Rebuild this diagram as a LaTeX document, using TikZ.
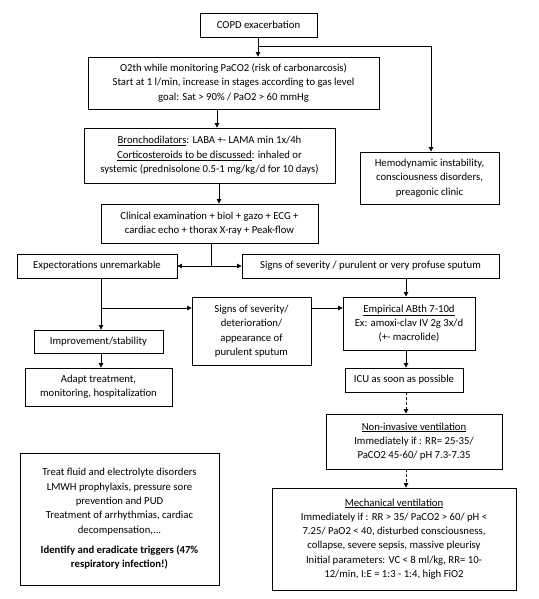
\documentclass[tikz,border=0pt]{standalone}
\usepackage{fontspec}
\setmainfont{Carlito}
\usetikzlibrary{arrows.meta}
\begin{document}
\begin{tikzpicture}[x=1pt,y=-1pt,
  box/.style={draw, line width=0.9pt, align=center, inner sep=2pt, font=\fontsize{10.7}{14.3}\selectfont},
  conn/.style={line width=0.8pt, -{Triangle[width=4.5pt,length=4.5pt]}},
  plainline/.style={line width=0.8pt},
  dconn/.style={conn, dashed, dash pattern=on 3pt off 2pt}]
\useasboundingbox (0,0) rectangle (538,599);
\node[box, minimum width=117pt, minimum height=24pt] (copd) at (258.5,25) {COPD exacerbation};
\node[box, minimum width=291pt, minimum height=52pt] (o2) at (233.5,83) {O2th while monitoring PaCO2 (risk of carbonarcosis)\\Start at 1 l/min, increase in stages according to gas level\\goal: Sat > 90\% / PaO2 > 60 mmHg};
\node[box, minimum width=251pt, minimum height=55pt] (bron) at (209.5,155.5) {\underline{Bronchodilators}: LABA +- LAMA min 1x/4h\\\underline{Corticosteroids to be discussed}: inhaled or\\systemic (prednisolone 0.5-1 mg/kg/d for 10 days)};
\node[box, minimum width=139pt, minimum height=52pt] (hemo) at (429.5,178) {Hemodynamic instability,\\consciousness disorders,\\preagonic clinic};
\node[box, minimum width=217pt, minimum height=39pt] (clin) at (209.5,223.5) {Clinical examination + biol + gazo + ECG +\\cardiac echo + thorax X-ray + Peak-flow};
\node[box, minimum width=160pt, minimum height=24pt] (exp) at (97,266) {Expectorations unremarkable};
\node[box, minimum width=257pt, minimum height=24pt] (signs) at (370.5,266) {Signs of severity / purulent or very profuse sputum};
\node[box, minimum width=119pt, minimum height=68pt] (det) at (251.5,331) {Signs of severity/\\deterioration/\\appearance of\\purulent sputum};
\node[box, minimum width=132pt, minimum height=53pt] (emp) at (409,323.5) {\underline{Empirical ABth 7-10d}\\Ex: amoxi-clav IV 2g 3x/d\\(+- macrolide)};
\node[box, minimum width=129pt, minimum height=23pt] (imp) at (98.5,341.5) {Improvement/stability};
\node[box, minimum width=147pt, minimum height=38pt] (adapt) at (98.5,387) {Adapt treatment,\\monitoring, hospitalization};
\node[box, minimum width=118pt, minimum height=24pt] (icu) at (404,380) {ICU as soon as possible};
\node[box, minimum width=176pt, minimum height=55pt] (niv) at (414,441.5) {\underline{Non-invasive ventilation}\\Immediately if : RR= 25-35/\\PaCO2 45-60/ pH 7.3-7.35};
\node[box, minimum width=199pt, minimum height=132pt] (treat) at (119.5,519) {Treat fluid and electrolyte disorders\\LMWH prophylaxis, pressure sore\\prevention and PUD\\Treatment of arrhythmias, cardiac\\decompensation,...\\[6pt]\textbf{Identify and eradicate triggers (47\%}\\\textbf{respiratory infection!)}};
\node[box, minimum width=244pt, minimum height=102pt] (mech) at (394,539) {\underline{Mechanical ventilation}\\Immediately if : RR > 35/ PaCO2 > 60/ pH <\\7.25/ PaO2 < 40, disturbed consciousness,\\collapse, severe sepsis, massive pleurisy\\Initial parameters: VC < 8 ml/kg, RR= 10-\\12/min, I:E = 1:3 - 1:4, high FiO2};
% coordinates
\coordinate (c1) at (258,46);
\coordinate (c2) at (431,46);
\coordinate (c3) at (211,266);
\coordinate (c4) at (101,308);
% connectors
\draw[conn] (copd.south -| c1) -- (c1 |- o2.north);
\draw[conn] (c1) -- (c2) -- (c2 |- hemo.north);
\draw[conn] (217,0 |- o2.south) -- (217,0 |- bron.north);
\draw[conn] (219,0 |- bron.south) -- (219,0 |- clin.north);
\draw[plainline] (c3 |- clin.south) -- (c3);
\draw[conn] (c3) -- (exp.east);
\draw[conn] (c3) -- (signs.west);
\draw[conn] (406,0 |- signs.south) -- (406,0 |- emp.north);
\draw[conn] (c4 |- exp.south) -- (c4 |- imp.north);
\draw[conn] (c4) -- (c4 -| det.west);
\draw[conn] (det.east |- c4) -- (emp.west |- c4);
\draw[conn] (imp.south -| c4) -- (c4 |- adapt.north);
\draw[conn] (406,0 |- emp.south) -- (406,0 |- icu.north);
\draw[dconn] (406,0 |- icu.south) -- (406,0 |- niv.north);
\draw[dconn] (406,0 |- niv.south) -- (406,0 |- mech.north);
\end{tikzpicture}
\end{document}
